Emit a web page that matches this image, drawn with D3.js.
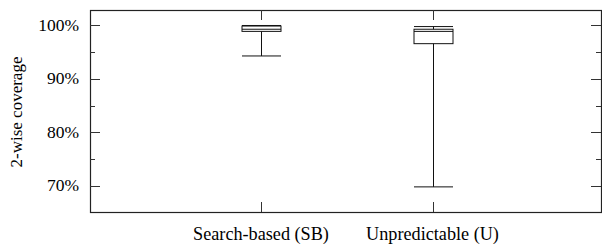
<!DOCTYPE html>
<html>
<head>
<meta charset="utf-8">
<script src="https://cdn.jsdelivr.net/npm/d3@7"></script>
<style>
  body { margin: 0; background: #fff; }
  text { font-family: "Liberation Serif", "Times New Roman", serif; fill: #000; }
</style>
</head>
<body>
<div id="chart"></div>
<script>
// box plot data (percent)
const categories = ["Search-based (SB)", "Unpredictable (U)"];
const whiskerLow = [94.3, 69.8];
const q1 = [98.9, 96.6];
const median = [99.3, 98.9];
const q3 = [99.9, 99.3];
const whiskerHigh = [100, 99.8];
const yTicks = [70, 80, 90, 100];
const yMinorTicks = [75, 85, 95];

const width = 602;
const height = 245;
const margin = { top: 10, right: 1, bottom: 33, left: 90 };

const svg = d3.select("#chart")
    .append("svg")
    .attr("width", width)
    .attr("height", height);

const x = d3.scalePoint().domain(categories)
    .range([261, 432.5]);
const y = d3.scaleLinear().domain([65.1, 102.9])
    .range([height - margin.bottom, margin.top]);

const plotL = margin.left, plotR = width - margin.right;
const plotT = margin.top, plotB = height - margin.bottom;

// frame
svg.append("rect")
    .attr("x", plotL + 0.5).attr("y", plotT + 0.5)
    .attr("width", plotR - plotL).attr("height", plotB - plotT)
    .attr("fill", "none").attr("stroke", "#222").attr("stroke-width", 1.2);

// y axis ticks on both sides
const tickG = svg.append("g").attr("stroke", "#333");
yTicks.forEach(v => {
    const yy = Math.round(y(v)) + 0.5;
    tickG.append("line").attr("x1", plotL).attr("x2", plotL + 10).attr("y1", yy).attr("y2", yy);
    tickG.append("line").attr("x1", plotR - 10).attr("x2", plotR).attr("y1", yy).attr("y2", yy);
});
yMinorTicks.forEach(v => {
    const yy = Math.round(y(v)) + 0.5;
    tickG.append("line").attr("x1", plotL).attr("x2", plotL + 5).attr("y1", yy).attr("y2", yy);
    tickG.append("line").attr("x1", plotR - 5).attr("x2", plotR).attr("y1", yy).attr("y2", yy);
});
svg.append("g").selectAll("text")
    .data(yTicks).enter().append("text")
    .attr("x", plotL - 11)
    .attr("y", d => y(d) + 5.5)
    .attr("text-anchor", "end")
    .attr("font-size", 17.5)
    .text(d => d + "%");

// x ticks top and bottom
categories.forEach(c => {
    const xx = Math.round(x(c)) + 0.5;
    tickG.append("line").attr("x1", xx).attr("x2", xx).attr("y1", plotB).attr("y2", plotB - 10);
    tickG.append("line").attr("x1", xx).attr("x2", xx).attr("y1", plotT).attr("y2", plotT + 10);
});
svg.append("g").selectAll("text")
    .data(categories).enter().append("text")
    .attr("x", d => x(d))
    .attr("y", plotB + 28)
    .attr("text-anchor", "middle")
    .attr("font-size", 18.2)
    .text(d => d);

// boxes
const boxW = 39;
const boxes = svg.append("g").attr("stroke", "#111").attr("fill", "none");
categories.forEach((c, i) => {
    const cx = Math.round(x(c)) + 0.5;
    boxes.append("line").attr("x1", cx).attr("x2", cx)
        .attr("y1", y(whiskerLow[i])).attr("y2", y(q1[i]));
    boxes.append("line").attr("x1", cx).attr("x2", cx)
        .attr("y1", y(q3[i])).attr("y2", y(whiskerHigh[i]));
    boxes.append("line").attr("x1", cx - boxW / 2).attr("x2", cx + boxW / 2)
        .attr("y1", y(whiskerLow[i])).attr("y2", y(whiskerLow[i]));
    boxes.append("line").attr("x1", cx - boxW / 2).attr("x2", cx + boxW / 2)
        .attr("y1", y(whiskerHigh[i])).attr("y2", y(whiskerHigh[i]));
    boxes.append("rect")
        .attr("x", cx - boxW / 2).attr("y", y(q3[i]))
        .attr("width", boxW).attr("height", y(q1[i]) - y(q3[i]));
    boxes.append("line").attr("x1", cx - boxW / 2).attr("x2", cx + boxW / 2)
        .attr("y1", y(median[i])).attr("y2", y(median[i]));
});

// y label
svg.append("text")
    .attr("x", 0).attr("y", 0)
    .attr("transform", "translate(22,112) rotate(-90)")
    .attr("text-anchor", "middle")
    .attr("font-size", 17)
    .text("2-wise coverage");
</script>
</body>
</html>
